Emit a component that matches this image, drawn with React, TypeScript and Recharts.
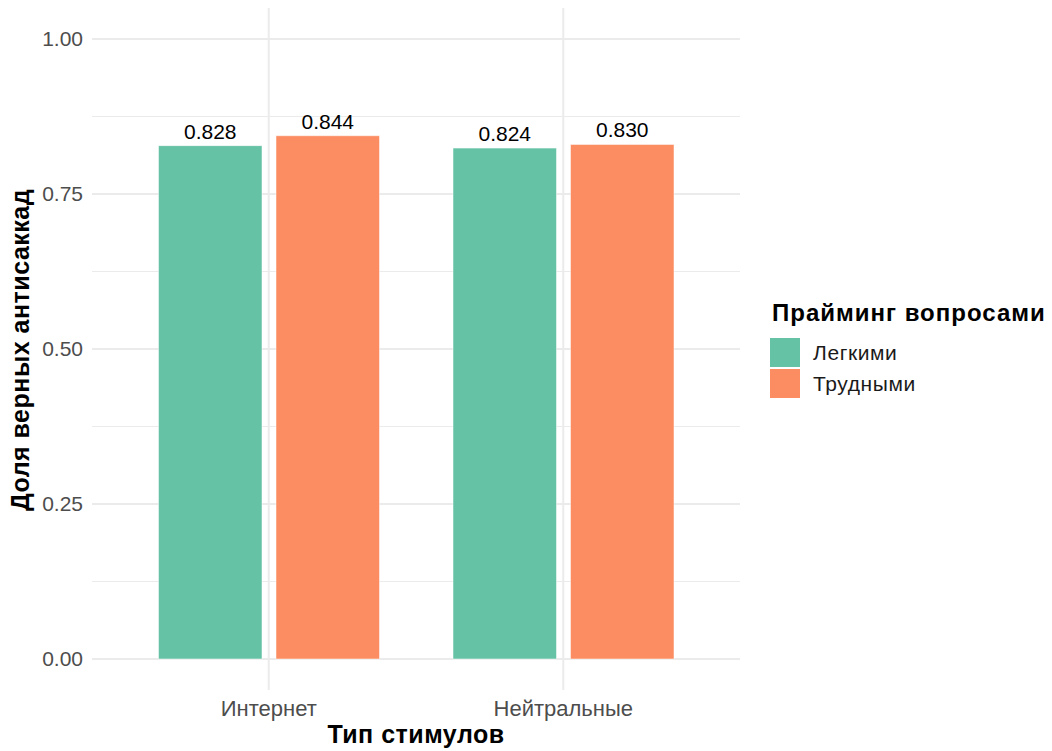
import {
  Bar,
  BarChart,
  CartesianGrid,
  LabelList,
  Legend,
  XAxis,
  YAxis,
} from "recharts";

const categories = ["Интернет", "Нейтральные"];
const easyValues = [0.828, 0.824];
const hardValues = [0.844, 0.83];
const seriesNames = ["Легкими", "Трудными"];
const seriesColors = ["#66C2A5", "#FC8D62"];
const yTicks = [0, 0.25, 0.5, 0.75, 1];
const yMinorTicks = [0.125, 0.375, 0.625, 0.875];

const data = categories.map((c, i) => ({
  type: c,
  easy: easyValues[i],
  hard: hardValues[i],
}));

const FONT = '"Liberation Sans", Arial, Helvetica, sans-serif';

function YTitle(props: any) {
  const vb = props.viewBox;
  const x = vb.x + 29;
  const y = vb.y + vb.height / 2 + 1;
  return (
    <text
      transform={`translate(${x}, ${y}) rotate(-90)`}
      textAnchor="middle"
      fontFamily={FONT}
      fontWeight="bold"
      fontSize={25}
      letterSpacing={0.5}
      fill="#000"
    >
      Доля верных антисаккад
    </text>
  );
}

function XTitle(props: any) {
  const vb = props.viewBox;
  return (
    <text
      x={vb.x + vb.width / 2}
      y={vb.y + 53}
      textAnchor="middle"
      fontFamily={FONT}
      fontWeight="bold"
      fontSize={25}
      letterSpacing={0.5}
      fill="#000"
    >
      Тип стимулов
    </text>
  );
}

function LegendBox() {
  return (
    <div style={{ fontFamily: FONT, whiteSpace: "nowrap" }}>
      <div
        style={{
          fontSize: 24,
          fontWeight: "bold",
          lineHeight: "24px",
          letterSpacing: 1,
          marginLeft: 2,
          color: "#000",
        }}
      >
        Прайминг вопросами
      </div>
      <div style={{ marginTop: 13 }}>
        {seriesNames.map((name, i) => (
          <div key={name} style={{ display: "flex", alignItems: "center", marginBottom: 2 }}>
            <div style={{ width: 30, height: 29, background: seriesColors[i] }} />
            <div
              style={{
                fontSize: 21,
                lineHeight: "29px",
                letterSpacing: 0.6,
                marginLeft: 13,
                color: "#1a1a1a",
              }}
            >
              {name}
            </div>
          </div>
        ))}
      </div>
    </div>
  );
}

export default function App() {
  return (
    <div style={{ position: "absolute", left: 0, top: 0, background: "#fff" }}>
      <BarChart
        width={1052}
        height={751}
        data={data}
        margin={{ top: 8, right: 312, bottom: 0, left: 0 }}
        barGap={14}
      >
        <CartesianGrid
          stroke="#ebebeb"
          strokeWidth={1}
          vertical={false}
          horizontalValues={yMinorTicks}
        />
        <CartesianGrid
          stroke="#ebebeb"
          strokeWidth={2}
          syncWithTicks
          horizontalValues={yTicks}
        />
        <XAxis
          dataKey="type"
          height={61}
          padding={{ left: 29.5, right: 29.5 }}
          axisLine={false}
          tickLine={false}
          tickSize={0}
          tickMargin={10}
          tick={{ fill: "#4d4d4d", fontSize: 22, fontFamily: FONT }}
          label={XTitle}
        />
        <YAxis
          width={92}
          domain={[-0.05, 1.05]}
          ticks={yTicks}
          allowDataOverflow
          axisLine={false}
          tickLine={false}
          tickSize={0}
          tickMargin={9}
          tickFormatter={(v: number) => v.toFixed(2)}
          tick={{ fill: "#4d4d4d", fontSize: 21, fontFamily: FONT }}
          label={YTitle}
        />
        <Legend
          layout="vertical"
          align="center"
          verticalAlign="middle"
          wrapperStyle={{ left: 770, top: 301, width: 282 }}
          content={LegendBox}
        />
        <Bar
          dataKey="easy"
          name={seriesNames[0]}
          fill={seriesColors[0]}
          stroke="#ffffff"
          strokeWidth={0.5}
          barSize={103.5}
          isAnimationActive={false}
        >
          <LabelList
            dataKey="easy"
            position="top"
            offset={7}
            formatter={(v: any) => Number(v).toFixed(3)}
            style={{ fill: "#000", fontSize: 21, fontFamily: FONT }}
          />
        </Bar>
        <Bar
          dataKey="hard"
          name={seriesNames[1]}
          fill={seriesColors[1]}
          stroke="#ffffff"
          strokeWidth={0.5}
          barSize={103.5}
          isAnimationActive={false}
        >
          <LabelList
            dataKey="hard"
            position="top"
            offset={7}
            formatter={(v: any) => Number(v).toFixed(3)}
            style={{ fill: "#000", fontSize: 21, fontFamily: FONT }}
          />
        </Bar>
      </BarChart>
    </div>
  );
}
